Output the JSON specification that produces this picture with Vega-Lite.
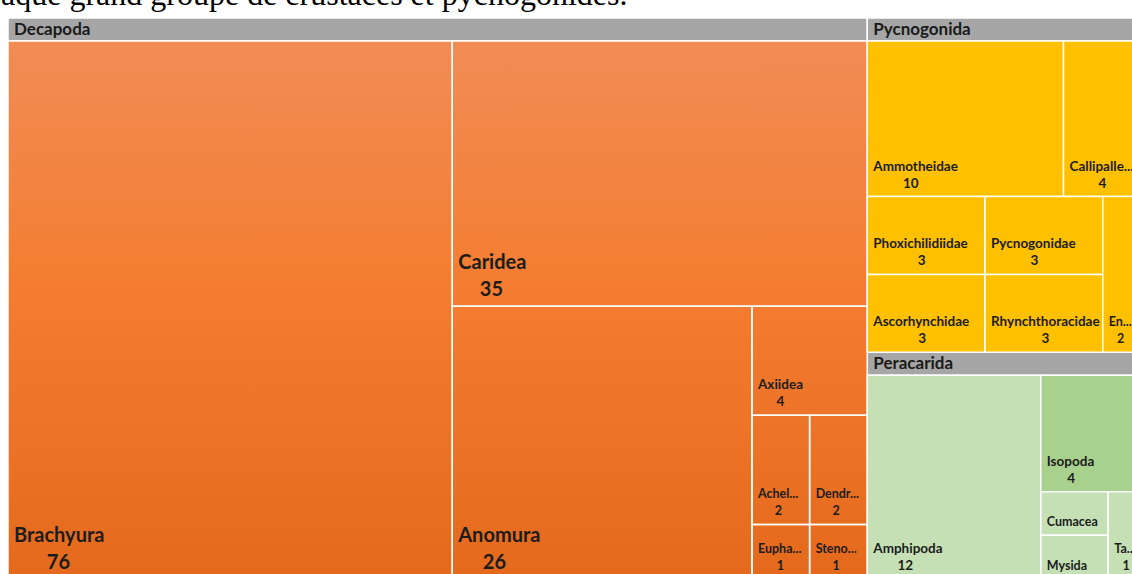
{
  "$schema": "https://vega.github.io/schema/vega-lite/v6.json",
  "width": 1124,
  "height": 556,
  "autosize": {"type": "none"},
  "padding": {"left": 8, "top": 18, "right": 0, "bottom": 0},
  "background": "white",
  "config": {"view": {"stroke": null}},
  "title": {
    "text": "aque grand groupe de crustacés et pycnogonides.",
    "anchor": "start",
    "frame": "group",
    "font": "Liberation Serif",
    "fontSize": 32,
    "fontWeight": "normal",
    "color": "#000000",
    "baseline": "alphabetic",
    "offset": 8,
    "dx": -7,
    "dy": 28
  },
  "data": {
    "values": [
      {"group": "Decapoda", "taxon": "Brachyura", "label": "Brachyura", "value": 76, "path": "aaaaaaa"},
      {"group": "Decapoda", "taxon": "Caridea", "label": "Caridea", "value": 35, "path": "aabaaaa"},
      {"group": "Decapoda", "taxon": "Anomura", "label": "Anomura", "value": 26, "path": "aabbaaa"},
      {"group": "Decapoda", "taxon": "Axiidea", "label": "Axiidea", "value": 4, "path": "aabbbaa"},
      {"group": "Decapoda", "taxon": "Achelata", "label": "Achel...", "value": 2, "path": "aabbbba"},
      {"group": "Decapoda", "taxon": "Dendrobranchiata", "label": "Dendr...", "value": 2, "path": "aabbbbb"},
      {"group": "Decapoda", "taxon": "Euphausiacea", "label": "Eupha...", "value": 1, "path": "aabbbca"},
      {"group": "Decapoda", "taxon": "Stenopodidea", "label": "Steno...", "value": 1, "path": "aabbbcb"},
      {"group": "Pycnogonida", "taxon": "Ammotheidae", "label": "Ammotheidae", "value": 10, "path": "baaaaaa"},
      {"group": "Pycnogonida", "taxon": "Callipallenidae", "label": "Callipalle...", "value": 4, "path": "baaabaa"},
      {"group": "Pycnogonida", "taxon": "Phoxichilidiidae", "label": "Phoxichilidiidae", "value": 3, "path": "baabaaa"},
      {"group": "Pycnogonida", "taxon": "Pycnogonidae", "label": "Pycnogonidae", "value": 3, "path": "baabaab"},
      {"group": "Pycnogonida", "taxon": "Ascorhynchidae", "label": "Ascorhynchidae", "value": 3, "path": "baababa"},
      {"group": "Pycnogonida", "taxon": "Rhynchthoracidae", "label": "Rhynchthoracidae", "value": 3, "path": "baababb"},
      {"group": "Pycnogonida", "taxon": "Endeidae", "label": "En...", "value": 2, "path": "baabbaa"},
      {"group": "Peracarida", "taxon": "Amphipoda", "label": "Amphipoda", "value": 12, "path": "bbaaaaa"},
      {"group": "Peracarida", "taxon": "Isopoda", "label": "Isopoda", "value": 4, "path": "bbbaaaa"},
      {"group": "Peracarida", "taxon": "Cumacea", "label": "Cumacea", "value": 1, "path": "bbbbaaa"},
      {"group": "Peracarida", "taxon": "Mysida", "label": "Mysida", "value": 1, "path": "bbbbaba"},
      {"group": "Peracarida", "taxon": "Tanaidacea", "label": "Ta...", "value": 1, "path": "bbbbbaa"}
    ]
  },
  "transform": [
    {"calculate": "0", "as": "x0a"},
    {"calculate": "1", "as": "x0b"},
    {"calculate": "0", "as": "y0a"},
    {"calculate": "1", "as": "y0b"},

    {"calculate": "substring(datum.path,0,0)", "as": "p1"},
    {"calculate": "substring(datum.path,0,1)", "as": "k1"},
    {"stack": "value", "groupby": ["p1"], "sort": [{"field": "path", "order": "ascending"}], "offset": "normalize", "as": ["s1a", "s1b"]},
    {"joinaggregate": [{"op": "min", "field": "s1a", "as": "f1a"}, {"op": "max", "field": "s1b", "as": "f1b"}], "groupby": ["k1"]},
    {"calculate": "datum.x0a + datum.f1a*(datum.x0b-datum.x0a)", "as": "x1a"},
    {"calculate": "datum.x0a + datum.f1b*(datum.x0b-datum.x0a)", "as": "x1b"},

    {"calculate": "substring(datum.path,0,1)", "as": "p2"},
    {"calculate": "substring(datum.path,0,2)", "as": "k2"},
    {"stack": "value", "groupby": ["p2"], "sort": [{"field": "path", "order": "ascending"}], "offset": "normalize", "as": ["s2a", "s2b"]},
    {"joinaggregate": [{"op": "min", "field": "s2a", "as": "f2a"}, {"op": "max", "field": "s2b", "as": "f2b"}], "groupby": ["k2"]},
    {"calculate": "datum.y0a + datum.f2a*(datum.y0b-datum.y0a)", "as": "y2a"},
    {"calculate": "datum.y0a + datum.f2b*(datum.y0b-datum.y0a)", "as": "y2b"},
    {"calculate": "datum.y2a + 23/561", "as": "y2h"},

    {"calculate": "substring(datum.path,0,2)", "as": "p3"},
    {"calculate": "substring(datum.path,0,3)", "as": "k3"},
    {"stack": "value", "groupby": ["p3"], "sort": [{"field": "path", "order": "ascending"}], "offset": "normalize", "as": ["s3a", "s3b"]},
    {"joinaggregate": [{"op": "min", "field": "s3a", "as": "f3a"}, {"op": "max", "field": "s3b", "as": "f3b"}], "groupby": ["k3"]},
    {"calculate": "datum.x1a + datum.f3a*(datum.x1b-datum.x1a)", "as": "x3a"},
    {"calculate": "datum.x1a + datum.f3b*(datum.x1b-datum.x1a)", "as": "x3b"},

    {"calculate": "substring(datum.path,0,3)", "as": "p4"},
    {"calculate": "substring(datum.path,0,4)", "as": "k4"},
    {"stack": "value", "groupby": ["p4"], "sort": [{"field": "path", "order": "ascending"}], "offset": "normalize", "as": ["s4a", "s4b"]},
    {"joinaggregate": [{"op": "min", "field": "s4a", "as": "f4a"}, {"op": "max", "field": "s4b", "as": "f4b"}], "groupby": ["k4"]},
    {"calculate": "datum.y2h + datum.f4a*(datum.y2b-datum.y2h)", "as": "y4a"},
    {"calculate": "datum.y2h + datum.f4b*(datum.y2b-datum.y2h)", "as": "y4b"},

    {"calculate": "substring(datum.path,0,4)", "as": "p5"},
    {"calculate": "substring(datum.path,0,5)", "as": "k5"},
    {"stack": "value", "groupby": ["p5"], "sort": [{"field": "path", "order": "ascending"}], "offset": "normalize", "as": ["s5a", "s5b"]},
    {"joinaggregate": [{"op": "min", "field": "s5a", "as": "f5a"}, {"op": "max", "field": "s5b", "as": "f5b"}], "groupby": ["k5"]},
    {"calculate": "datum.x3a + datum.f5a*(datum.x3b-datum.x3a)", "as": "x5a"},
    {"calculate": "datum.x3a + datum.f5b*(datum.x3b-datum.x3a)", "as": "x5b"},

    {"calculate": "substring(datum.path,0,5)", "as": "p6"},
    {"calculate": "substring(datum.path,0,6)", "as": "k6"},
    {"stack": "value", "groupby": ["p6"], "sort": [{"field": "path", "order": "ascending"}], "offset": "normalize", "as": ["s6a", "s6b"]},
    {"joinaggregate": [{"op": "min", "field": "s6a", "as": "f6a"}, {"op": "max", "field": "s6b", "as": "f6b"}], "groupby": ["k6"]},
    {"calculate": "datum.y4a + datum.f6a*(datum.y4b-datum.y4a)", "as": "y6a"},
    {"calculate": "datum.y4a + datum.f6b*(datum.y4b-datum.y4a)", "as": "y6b"},

    {"calculate": "substring(datum.path,0,6)", "as": "p7"},
    {"calculate": "substring(datum.path,0,7)", "as": "k7"},
    {"stack": "value", "groupby": ["p7"], "sort": [{"field": "path", "order": "ascending"}], "offset": "normalize", "as": ["s7a", "s7b"]},
    {"joinaggregate": [{"op": "min", "field": "s7a", "as": "f7a"}, {"op": "max", "field": "s7b", "as": "f7b"}], "groupby": ["k7"]},
    {"calculate": "datum.x5a + datum.f7a*(datum.x5b-datum.x5a)", "as": "x7a"},
    {"calculate": "datum.x5a + datum.f7b*(datum.x5b-datum.x5a)", "as": "x7b"},

    {"calculate": "(datum.y6b-datum.y6a)*561 >= 48", "as": "showv"},
    {"calculate": "datum.value>=20 ? 20 : (datum.value>=3 ? 13.5 : 12.5)", "as": "fs"},
    {"calculate": "datum.fs*(0.56*length(datum.label) - 0.3*(length(datum.label)-length(replace(datum.label, regexp('[iljtfr.I]','g'), ''))))", "as": "tw"},
    {"calculate": "datum.x7a + (6 + datum.tw/2)/1134", "as": "vx"},
    {"calculate": "datum.y6b - (datum.value>=20 ? 37 : (datum.showv ? 26 : 9))/561", "as": "ny"},
    {"calculate": "datum.y6b - (datum.value>=20 ? 10 : 9)/561", "as": "vy"}
  ],
  "layer": [
    {
      "transform": [
        {"aggregate": [
          {"op": "min", "field": "x1a", "as": "gx0"},
          {"op": "max", "field": "x1b", "as": "gx1"},
          {"op": "min", "field": "y2a", "as": "gy0"},
          {"op": "max", "field": "y2b", "as": "gy1"},
          {"op": "min", "field": "y2h", "as": "gyh"}
        ], "groupby": ["group"]}
      ],
      "mark": {"type": "rect", "fill": "#A6A6A6", "stroke": "#ffffff", "strokeWidth": 1.5},
      "encoding": {
        "x": {"field": "gx0", "type": "quantitative", "scale": {"domain": [0, 1], "range": [0, 1134]}, "axis": null},
        "x2": {"field": "gx1"},
        "y": {"field": "gy0", "type": "quantitative", "scale": {"domain": [0, 1], "range": [0, 561]}, "axis": null},
        "y2": {"field": "gyh"}
      }
    },
    {
      "transform": [
        {"filter": "datum.group === 'Decapoda'"},
        {"aggregate": [
          {"op": "min", "field": "x1a", "as": "gx0"},
          {"op": "max", "field": "x1b", "as": "gx1"},
          {"op": "max", "field": "y2b", "as": "gy1"},
          {"op": "min", "field": "y2h", "as": "gyh"}
        ], "groupby": ["group"]}
      ],
      "mark": {
        "type": "rect",
        "fill": {"gradient": "linear", "x1": 0, "y1": 0, "x2": 0, "y2": 1,
          "stops": [
            {"offset": 0, "color": "#F18C55"},
            {"offset": 0.45, "color": "#F47D31"},
            {"offset": 1, "color": "#E4691D"}
          ]}
      },
      "encoding": {
        "x": {"field": "gx0", "type": "quantitative", "scale": {"domain": [0, 1], "range": [0, 1134]}, "axis": null},
        "x2": {"field": "gx1"},
        "y": {"field": "gyh", "type": "quantitative", "scale": {"domain": [0, 1], "range": [0, 561]}, "axis": null},
        "y2": {"field": "gy1"}
      }
    },
    {
      "mark": {"type": "rect", "stroke": "#ffffff", "strokeWidth": 1.5},
      "encoding": {
        "x": {"field": "x7a", "type": "quantitative", "scale": {"domain": [0, 1], "range": [0, 1134]}, "axis": null},
        "x2": {"field": "x7b"},
        "y": {"field": "y6a", "type": "quantitative", "scale": {"domain": [0, 1], "range": [0, 561]}, "axis": null},
        "y2": {"field": "y6b"},
        "fill": {
          "condition": [
            {"test": "datum.group === 'Decapoda'", "value": "rgba(0,0,0,0)"},
            {"test": "datum.taxon === 'Isopoda'", "value": "#A9D18E"}
          ],
          "field": "group", "type": "nominal",
          "scale": {"domain": ["Pycnogonida", "Peracarida", "Decapoda"], "range": ["#FFC000", "#C5E0B4", "#F47D31"]},
          "legend": null
        }
      }
    },
    {
      "transform": [
        {"aggregate": [
          {"op": "min", "field": "x1a", "as": "gx0"},
          {"op": "min", "field": "y2a", "as": "gy0"}
        ], "groupby": ["group"]},
        {"calculate": "datum.gy0 + 17/561", "as": "hy"}
      ],
      "mark": {"type": "text", "align": "left", "baseline": "alphabetic", "dx": 6, "font": "Lato", "fontWeight": "bold", "fontSize": 17, "color": "#1a1a1a"},
      "encoding": {
        "x": {"field": "gx0", "type": "quantitative", "scale": {"domain": [0, 1], "range": [0, 1134]}, "axis": null},
        "y": {"field": "hy", "type": "quantitative", "scale": {"domain": [0, 1], "range": [0, 561]}, "axis": null},
        "text": {"field": "group"}
      }
    },
    {
      "mark": {"type": "text", "align": "left", "baseline": "alphabetic", "dx": 6, "font": "Lato", "fontWeight": "bold", "color": "#1c1c1c"},
      "encoding": {
        "x": {"field": "x7a", "type": "quantitative", "scale": {"domain": [0, 1], "range": [0, 1134]}, "axis": null},
        "y": {"field": "ny", "type": "quantitative", "scale": {"domain": [0, 1], "range": [0, 561]}, "axis": null},
        "text": {"field": "label"},
        "size": {"field": "value", "type": "quantitative", "scale": {"type": "threshold", "domain": [3, 20], "range": [12.5, 13.5, 20]}, "legend": null}
      }
    },
    {
      "transform": [{"filter": "datum.showv"}],
      "mark": {"type": "text", "align": "center", "baseline": "alphabetic", "font": "Lato", "fontWeight": "bold", "color": "#1c1c1c"},
      "encoding": {
        "x": {"field": "vx", "type": "quantitative", "scale": {"domain": [0, 1], "range": [0, 1134]}, "axis": null},
        "y": {"field": "vy", "type": "quantitative", "scale": {"domain": [0, 1], "range": [0, 561]}, "axis": null},
        "text": {"field": "value", "type": "quantitative"},
        "size": {"field": "value", "type": "quantitative", "scale": {"type": "threshold", "domain": [3, 20], "range": [12.5, 13.5, 20]}, "legend": null}
      }
    }
  ]
}
